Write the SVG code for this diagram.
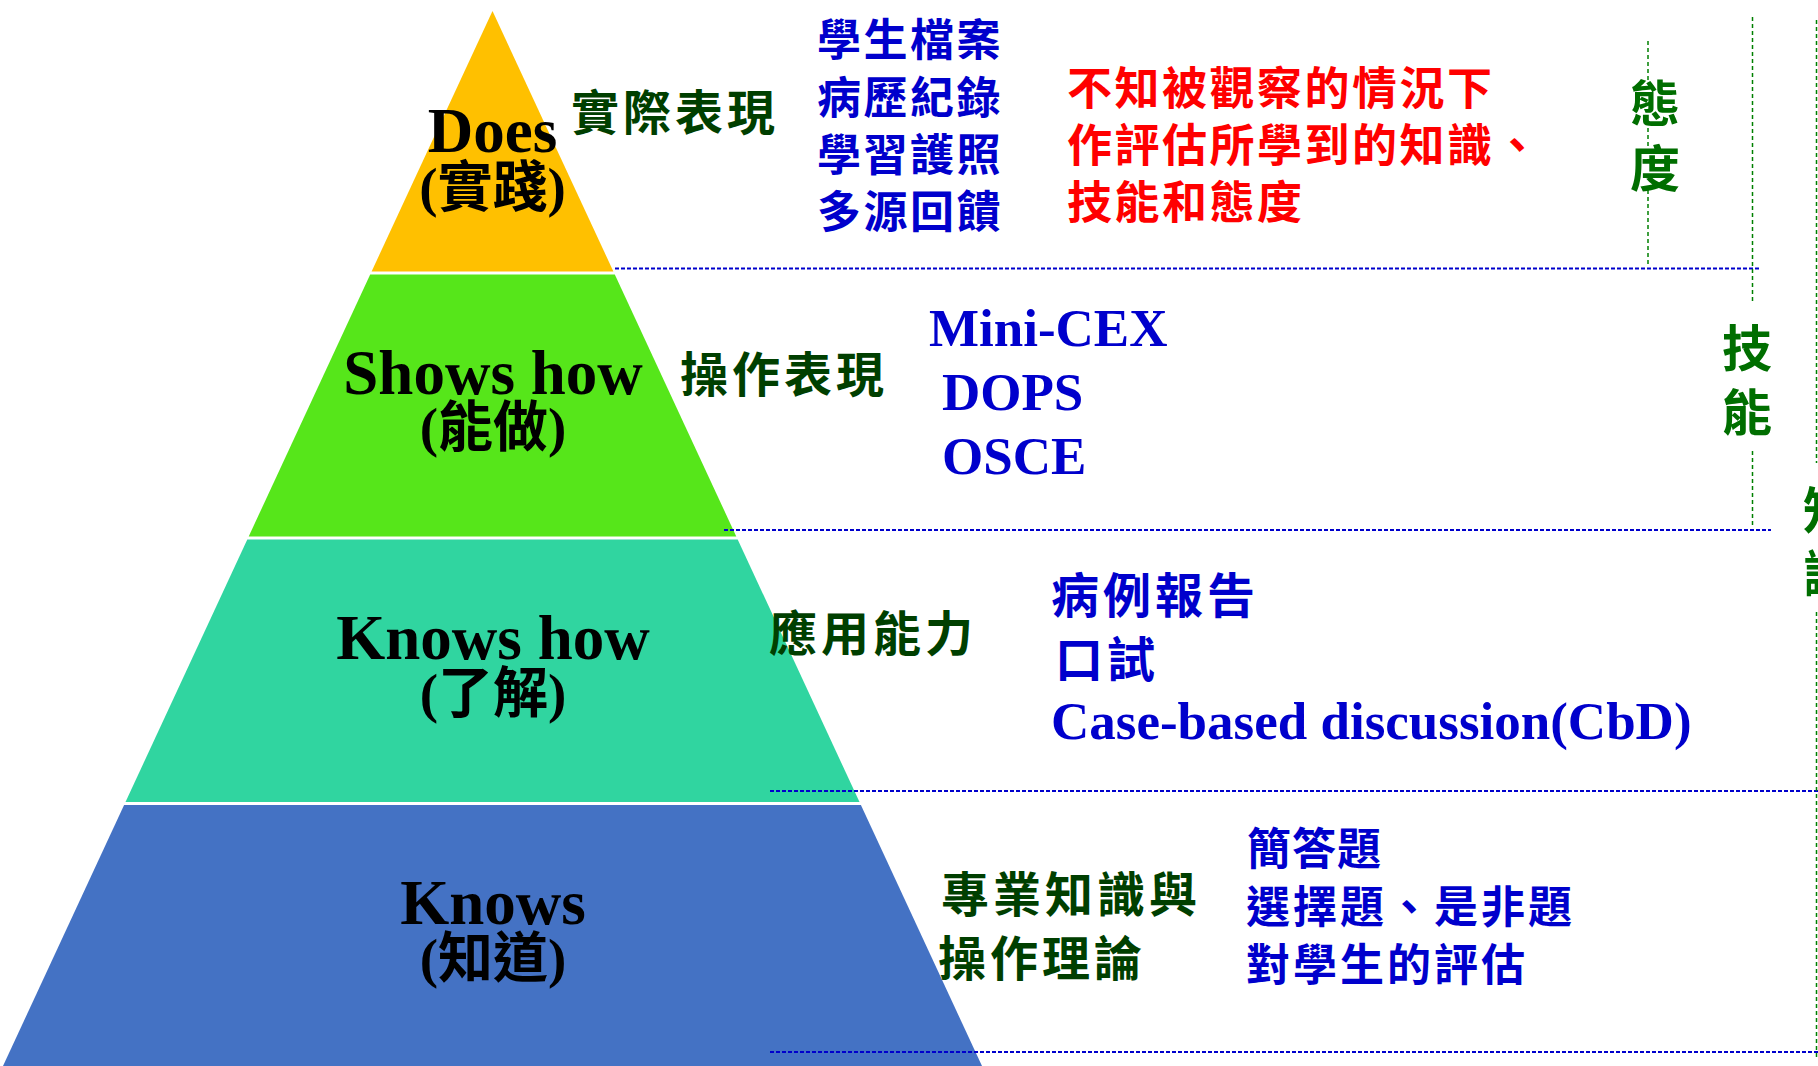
<svg xmlns="http://www.w3.org/2000/svg" width="1818" height="1066" viewBox="0 0 1818 1066">
<style>
.lvl{font-family:"Liberation Serif","Noto Sans CJK TC",serif;font-weight:bold;fill:#000;text-anchor:middle}
.l1{font-size:63px}
.l2{font-size:55px}
.dg{font-family:"Noto Sans CJK TC",sans-serif;font-weight:bold;fill:#003F00;font-size:48px;letter-spacing:4px}
.bc{font-family:"Noto Sans CJK TC",sans-serif;font-weight:bold;fill:#0000CC;font-size:44px;letter-spacing:2.5px}
.bc2{font-family:"Noto Sans CJK TC",sans-serif;font-weight:bold;fill:#0000CC;font-size:48px;letter-spacing:4px}
.rd{font-family:"Noto Sans CJK TC",sans-serif;font-weight:bold;fill:#FF0000;font-size:45px;letter-spacing:2.5px}
.bs{font-family:"Liberation Serif",serif;font-weight:bold;fill:#0000CC;font-size:53px}
.gv{font-family:"Noto Sans CJK TC",sans-serif;font-weight:bold;fill:#006E00;font-size:50px;text-anchor:middle}
.hd{stroke:#0000CC;stroke-width:2;stroke-dasharray:4 2;fill:none}
.vd{stroke:#008000;stroke-width:1.5;stroke-dasharray:4 3;fill:none}
</style>
<rect width="1818" height="1066" fill="#FFFFFF"/>
<g id="pyramid">
<g id="does"><polygon points="492.5,11 613.4,271.5 371.6,271.5" fill="#FFC000"/></g>
<g id="shows-how"><polygon points="370.2,274.5 614.8,274.5 736.3,536.5 248.7,536.5" fill="#56E61A"/></g>
<g id="knows-how"><polygon points="247.3,539.5 737.7,539.5 859.5,802 125.5,802" fill="#30D5A0"/></g>
<g id="knows"><polygon points="124.1,805 860.9,805 982,1066 3,1066" fill="#4472C4"/></g>
</g>
<g id="connectors">
<line class="hd" x1="615" y1="268.5" x2="1761" y2="268.5"/>
<line class="hd" x1="724" y1="530" x2="1771" y2="530"/>
<line class="hd" x1="770" y1="791" x2="1818" y2="791"/>
<line class="hd" x1="770" y1="1052" x2="1818" y2="1052"/>
<line class="vd" x1="1648" y1="41" x2="1648" y2="80"/>
<line class="vd" x1="1648" y1="128" x2="1648" y2="146"/>
<line class="vd" x1="1648" y1="190" x2="1648" y2="267"/>
<line class="vd" x1="1752.5" y1="17" x2="1752.5" y2="301"/>
<line class="vd" x1="1752.5" y1="451" x2="1752.5" y2="527"/>
<line class="vd" x1="1816.5" y1="20" x2="1816.5" y2="463"/>
<line class="vd" x1="1816.5" y1="612" x2="1816.5" y2="1058"/>
</g>
<g id="level-labels">
<text class="lvl l1" x="492.5" y="151.5">Does</text>
<text class="lvl l2" x="492.5" y="206">(實踐)</text>
<text class="lvl l1" x="493" y="393.5">Shows how</text>
<text class="lvl l2" x="493" y="446">(能做)</text>
<text class="lvl l1" x="493" y="658.5">Knows how</text>
<text class="lvl l2" x="493" y="712">(了解)</text>
<text class="lvl l1" x="493" y="924">Knows</text>
<text class="lvl l2" x="493" y="977">(知道)</text>
</g>
<g id="competence-labels">
<text class="dg" x="571" y="130">實際表現</text>
<text class="dg" x="680" y="392">操作表現</text>
<text class="dg" x="769" y="651">應用能力</text>
<text class="dg" x="941" y="912">專業知識與</text>
<text class="dg" x="938" y="976">操作理論</text>
</g>
<g id="does-methods">
<text class="bc" x="817" y="56">學生檔案</text>
<text class="bc" x="817" y="114">病歷紀錄</text>
<text class="bc" x="817" y="171">學習護照</text>
<text class="bc" x="817" y="228">多源回饋</text>
</g>
<g id="does-note">
<text class="rd" x="1067" y="105">不知被觀察的情況下</text>
<text class="rd" x="1067" y="161.5">作評估所學到的知識、</text>
<text class="rd" x="1067" y="219">技能和態度</text>
</g>
<g id="shows-how-methods">
<text class="bs" x="929" y="346">Mini-CEX</text>
<text class="bs" x="942" y="410">DOPS</text>
<text class="bs" x="942" y="473.5">OSCE</text>
</g>
<g id="knows-how-methods">
<text class="bc2" x="1051" y="613">病例報告</text>
<text class="bc2" x="1055" y="677">口試</text>
<text class="bs" x="1051" y="739">Case-based discussion(CbD)</text>
</g>
<g id="knows-methods">
<text class="bc" x="1247" y="865" style="letter-spacing:1px">簡答題</text>
<text class="bc" x="1246" y="922.5" style="letter-spacing:3px">選擇題、是非題</text>
<text class="bc" x="1246" y="981" style="letter-spacing:3px">對學生的評估</text>
</g>
<g id="domain-attitude">
<text class="gv" x="1655" y="122">態</text>
<text class="gv" x="1655" y="187">度</text>
</g>
<g id="domain-skill">
<text class="gv" x="1747" y="367">技</text>
<text class="gv" x="1747" y="430.5">能</text>
</g>
<g id="domain-knowledge">
<text class="gv" x="1828" y="529">知</text>
<text class="gv" x="1828" y="592">識</text>
</g>
</svg>
